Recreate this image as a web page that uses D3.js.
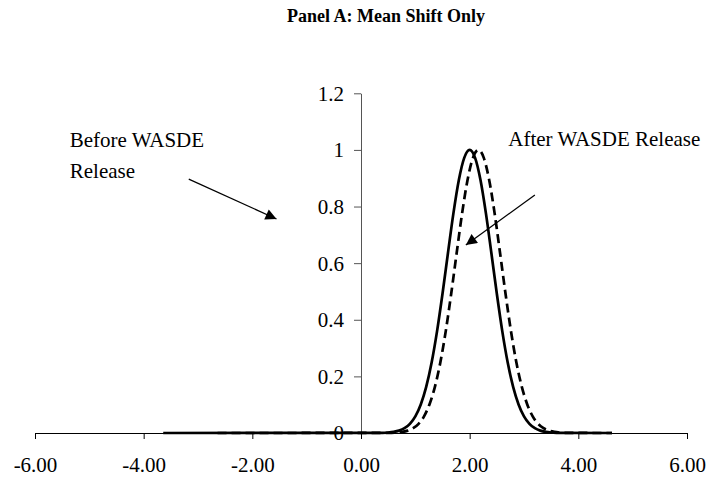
<!DOCTYPE html>
<html>
<head>
<meta charset="utf-8">
<script src="https://cdn.jsdelivr.net/npm/d3@7"></script>
<style>
  html, body { margin: 0; padding: 0; background: #fff; }
  svg { display: block; }
  text { font-family: "Liberation Serif", "Times New Roman", serif; fill: #000; }
</style>
</head>
<body>
<svg id="chart" width="710" height="480"></svg>
<script>
// ---- data ----
const title = "Panel A: Mean Shift Only";
const xTicks = [-6, -4, -2, 0, 2, 4, 6];
const xTickLabels = ["-6.00", "-4.00", "-2.00", "0.00", "2.00", "4.00", "6.00"];
const yTicks = [0, 0.2, 0.4, 0.6, 0.8, 1, 1.2];
const yTickLabels = ["0", "0.2", "0.4", "0.6", "0.8", "1", "1.2"];

// Before WASDE release (solid)
const beforeX = [-3.64, 0.3, 0.4, 0.5, 0.6, 0.7, 0.8, 0.9, 1.0, 1.1, 1.2, 1.3, 1.4, 1.5, 1.6, 1.7, 1.8, 1.9, 2.0,
                 2.1, 2.2, 2.3, 2.4, 2.5, 2.6, 2.7, 2.8, 2.9, 3.0, 3.1, 3.2, 3.3, 3.4, 3.5, 3.6, 3.7, 4.62];
const beforeY = [0, 0.0003, 0.0007, 0.0017, 0.0039, 0.0083, 0.0169, 0.0324, 0.0588, 0.101, 0.163, 0.249, 0.360, 0.492, 0.635, 0.775, 0.893, 0.972, 1.0,
                 0.972, 0.893, 0.775, 0.635, 0.492, 0.360, 0.249, 0.163, 0.101, 0.0588, 0.0324, 0.0169, 0.0083, 0.0039, 0.0017, 0.0007, 0.0003, 0];

// After WASDE release (dashed)
const afterX = [-2.64, 0.46, 0.56, 0.66, 0.76, 0.86, 0.96, 1.06, 1.16, 1.26, 1.36, 1.46, 1.56, 1.66, 1.76, 1.86, 1.96, 2.06, 2.16,
                2.26, 2.36, 2.46, 2.56, 2.66, 2.76, 2.86, 2.96, 3.06, 3.16, 3.26, 3.36, 3.46, 3.56, 3.66, 3.76, 3.86, 4.62];
const afterY = [0, 0.0003, 0.0007, 0.0017, 0.0039, 0.0083, 0.0169, 0.0324, 0.0588, 0.101, 0.163, 0.249, 0.360, 0.492, 0.635, 0.775, 0.893, 0.972, 1.0,
                0.972, 0.893, 0.775, 0.635, 0.492, 0.360, 0.249, 0.163, 0.101, 0.0588, 0.0324, 0.0169, 0.0083, 0.0039, 0.0017, 0.0007, 0.0003, 0];

// annotations (in data units)
const beforeLabel = ["Before WASDE", "Release"];
const beforeLabelPos = [-5.36, 1.012];
const beforeArrow = [[-3.17, 0.897], [-1.555, 0.756]];
const afterLabel = "After WASDE Release";
const afterLabelPos = [2.71, 1.015];
const afterArrow = [[3.20, 0.841], [1.93, 0.664]];

// ---- drawing ----
const svg = d3.select("#chart");
const x = d3.scaleLinear().domain([-6, 6]).range([35, 687]);
const y = d3.scaleLinear().domain([0, 1.2]).range([433, 93.3]);
const FS = 21;

svg.append("defs").append("marker")
  .attr("id", "arrow")
  .attr("viewBox", "0 0 10 10")
  .attr("refX", 10).attr("refY", 5)
  .attr("markerWidth", 13).attr("markerHeight", 11)
  .attr("markerUnits", "userSpaceOnUse")
  .attr("orient", "auto")
  .append("path").attr("d", "M0,0 L10,5 L0,10 Z").attr("fill", "#000");

// title
svg.append("text")
  .attr("x", 386).attr("y", 22)
  .attr("text-anchor", "middle")
  .attr("font-weight", "bold")
  .attr("font-size", 18)
  .text(title);

// x axis
const xAxis = svg.append("g").attr("transform", `translate(0,${y(0)})`)
  .call(d3.axisBottom(x).tickValues(xTicks).tickSize(6).tickSizeOuter(0)
    .tickFormat((d, i) => xTickLabels[i]));
xAxis.select(".domain").attr("stroke", "#000").attr("stroke-width", 1);
xAxis.selectAll(".tick line").attr("stroke", "#000");
xAxis.selectAll(".tick text").attr("font-size", FS).attr("font-family", "Liberation Serif")
  .attr("dy", null).attr("y", 38.5);

// y axis
const yAxis = svg.append("g").attr("transform", `translate(${x(0)},0)`)
  .call(d3.axisLeft(y).tickValues(yTicks).tickSize(7).tickSizeOuter(0)
    .tickFormat((d, i) => yTickLabels[i]));
yAxis.select(".domain").attr("stroke", "#555").attr("stroke-width", 1);
yAxis.selectAll(".tick line").attr("stroke", "#555");
yAxis.selectAll(".tick text").attr("font-size", FS).attr("font-family", "Liberation Serif")
  .attr("x", -17).attr("dy", "0.33em");

// curves
const line = d3.line().x(d => x(d[0])).y(d => y(d[1])).curve(d3.curveMonotoneX);
const afterData = afterX.map((v, i) => [v, afterY[i]]);
const beforeData = beforeX.map((v, i) => [v, beforeY[i]]);

svg.append("path").datum(afterData)
  .attr("d", line).attr("fill", "none").attr("stroke", "#000")
  .attr("stroke-width", 2.7).attr("stroke-dasharray", "9,5");
svg.append("path").datum(beforeData)
  .attr("d", line).attr("fill", "none").attr("stroke", "#000")
  .attr("stroke-width", 2.7);

// annotations
const bt = svg.append("text")
  .attr("x", x(beforeLabelPos[0])).attr("y", y(beforeLabelPos[1]))
  .attr("font-size", FS);
beforeLabel.forEach((s, i) => bt.append("tspan").attr("x", x(beforeLabelPos[0])).attr("dy", i === 0 ? 0 : 31).text(s));

svg.append("line")
  .attr("x1", x(beforeArrow[0][0])).attr("y1", y(beforeArrow[0][1]))
  .attr("x2", x(beforeArrow[1][0])).attr("y2", y(beforeArrow[1][1]))
  .attr("stroke", "#000").attr("stroke-width", 1.3).attr("marker-end", "url(#arrow)");

svg.append("text")
  .attr("x", x(afterLabelPos[0])).attr("y", y(afterLabelPos[1]))
  .attr("font-size", FS)
  .text(afterLabel);

svg.append("line")
  .attr("x1", x(afterArrow[0][0])).attr("y1", y(afterArrow[0][1]))
  .attr("x2", x(afterArrow[1][0])).attr("y2", y(afterArrow[1][1]))
  .attr("stroke", "#000").attr("stroke-width", 1.3).attr("marker-end", "url(#arrow)");
</script>
</body>
</html>
